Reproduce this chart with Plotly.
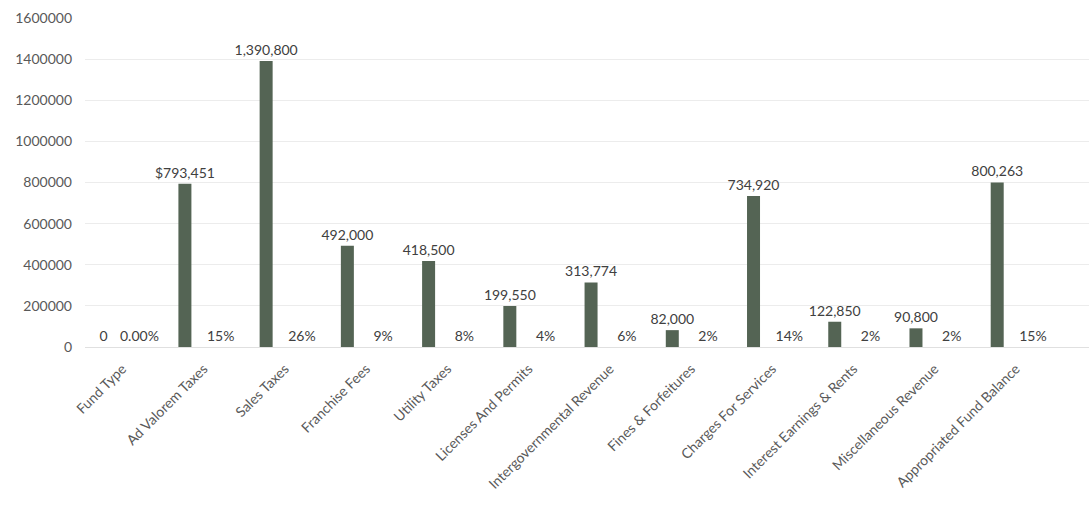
import plotly.graph_objects as go

categories = ["Fund Type", "Ad Valorem Taxes", "Sales Taxes", "Franchise Fees",
              "Utility Taxes", "Licenses And Permits", "Intergovernmental Revenue",
              "Fines & Forfeitures", "Charges For Services", "Interest Earnings & Rents",
              "Miscellaneous Revenue", "Appropriated Fund Balance"]
amounts = [0, 793451, 1390800, 492000, 418500, 199550, 313774, 82000,
           734920, 122850, 90800, 800263]
shares = [0.0, 0.15, 0.26, 0.09, 0.08, 0.04, 0.06, 0.02, 0.14, 0.02, 0.02, 0.15]
y_ticks = [0, 200000, 400000, 600000, 800000, 1000000, 1200000, 1400000, 1600000]

amount_labels = []
for i, v in enumerate(amounts):
    s = f"{v:,}"
    if i == 1:
        s = "$" + s
    amount_labels.append(s)
share_labels = ["0.00%" if i == 0 else f"{p:.0%}" for i, p in enumerate(shares)]

FONT = "Lato"
BAR = "#546454"
TXT = "#404040"

fig = go.Figure()
fig.add_trace(go.Bar(
    x=categories, y=amounts, width=0.16, offset=-0.31,
    marker=dict(color=BAR, line=dict(width=0)),
    text=amount_labels, textposition="outside", constraintext="none",
    textfont=dict(family=FONT, size=14, color=TXT), cliponaxis=False,
    showlegend=False, hoverinfo="skip",
))
fig.add_trace(go.Bar(
    x=categories, y=shares, width=0.16, offset=0.13,
    marker=dict(color="rgba(0,0,0,0)", line=dict(width=0)),
    text=share_labels, textposition="outside", constraintext="none",
    textfont=dict(family=FONT, size=14, color=TXT), cliponaxis=False,
    showlegend=False, hoverinfo="skip",
))

fig.update_layout(
    width=1089, height=515,
    margin=dict(l=85, r=0, t=18, b=168),
    paper_bgcolor="white", plot_bgcolor="white",
    font=dict(family=FONT, color="#595959"),
    barmode="overlay",
    xaxis=dict(type="category", range=[-0.46, 11.9], tickangle=-45,
               tickfont=dict(family=FONT, size=14, color="#595959"),
               showgrid=False, showline=False, zeroline=False, ticks="",
               ticklabelstandoff=10),
    yaxis=dict(range=[0, 1600000], tickvals=y_ticks, tickformat="d",
               tickfont=dict(family=FONT, size=14, color="#595959"),
               showgrid=True, gridcolor="#ececec", gridwidth=1,
               zeroline=True, zerolinecolor="#e0e0e0", zerolinewidth=1,
               showline=False, ticks="", ticklabelstandoff=12),
)

fig.write_html("out.html")
